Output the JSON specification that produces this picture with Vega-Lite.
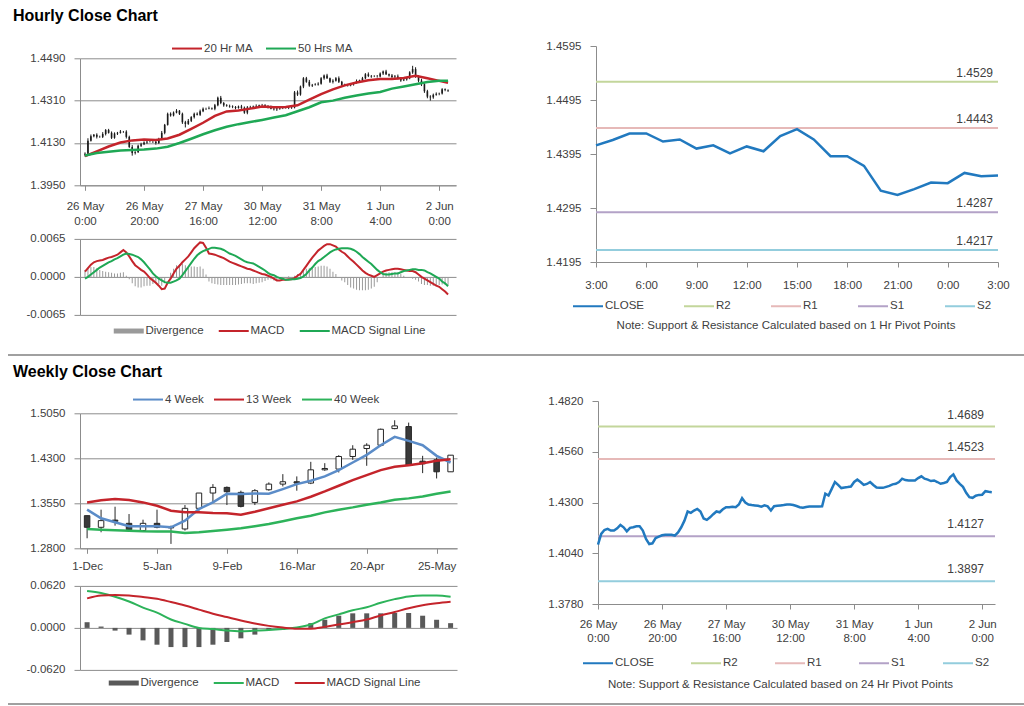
{
"$schema": "https://vega.github.io/schema/vega-lite/v6.json",
"background": "white",
"padding": {"left": 7, "top": 8, "right": 0, "bottom": 0},
"config": {
 "font": "Liberation Sans",
 "view": {"stroke": null},
 "axis": {"labelFont": "Liberation Sans", "labelFontSize": 11.5, "labelColor": "#404040", "domainColor": "#8c8c8c", "tickColor": "#8c8c8c", "gridColor": "#8c8c8c", "labelFlush": false, "labelOverlap": false},
 "legend": {"labelFont": "Liberation Sans", "labelFontSize": 11.5, "labelColor": "#404040", "orient": "none", "direction": "horizontal", "symbolType": "M-1,0H5", "symbolSize": 100, "symbolStrokeWidth": 2, "labelOffset": 21},
 "title": {"font": "Liberation Sans"}
},
"datasets": {
 "h": [
  {"i":0,"o":1.4080,"h":1.4090,"l":1.4072,"c":1.4084,"m":0.0009,"g":-0.0003,"dv":0.0012},
  {"i":1,"o":1.4084,"h":1.4150,"l":1.4080,"c":1.4139,"m":0.0015,"g":0.0000,"dv":0.0015},
  {"i":2,"o":1.4139,"h":1.4166,"l":1.4136,"c":1.4159,"m":0.0021,"g":0.0004,"dv":0.0017},
  {"i":3,"o":1.4159,"h":1.4168,"l":1.4154,"c":1.4165,"m":0.0025,"g":0.0008,"dv":0.0017},
  {"i":4,"o":1.4165,"h":1.4171,"l":1.4149,"c":1.4156,"m":0.0027,"g":0.0012,"dv":0.0015},
  {"i":5,"o":1.4156,"h":1.4161,"l":1.4152,"c":1.4156,"m":0.0028,"g":0.0016,"dv":0.0012},
  {"i":6,"o":1.4156,"h":1.4176,"l":1.4151,"c":1.4168,"m":0.0029,"g":0.0019,"dv":0.0010},
  {"i":7,"o":1.4168,"h":1.4189,"l":1.4162,"c":1.4185,"m":0.0031,"g":0.0022,"dv":0.0009},
  {"i":8,"o":1.4185,"h":1.4190,"l":1.4170,"c":1.4173,"m":0.0033,"g":0.0025,"dv":0.0008},
  {"i":9,"o":1.4173,"h":1.4179,"l":1.4147,"c":1.4152,"m":0.0034,"g":0.0027,"dv":0.0007},
  {"i":10,"o":1.4152,"h":1.4175,"l":1.4148,"c":1.4170,"m":0.0036,"g":0.0030,"dv":0.0006},
  {"i":11,"o":1.4170,"h":1.4177,"l":1.4164,"c":1.4173,"m":0.0038,"g":0.0032,"dv":0.0006},
  {"i":12,"o":1.4173,"h":1.4185,"l":1.4170,"c":1.4178,"m":0.0042,"g":0.0035,"dv":0.0007},
  {"i":13,"o":1.4178,"h":1.4181,"l":1.4173,"c":1.4178,"m":0.0046,"g":0.0038,"dv":0.0008},
  {"i":14,"o":1.4178,"h":1.4184,"l":1.4149,"c":1.4156,"m":0.0042,"g":0.0040,"dv":0.0002},
  {"i":15,"o":1.4156,"h":1.4161,"l":1.4109,"c":1.4113,"m":0.0035,"g":0.0039,"dv":-0.0004},
  {"i":16,"o":1.4113,"h":1.4121,"l":1.4076,"c":1.4087,"m":0.0027,"g":0.0038,"dv":-0.0011},
  {"i":17,"o":1.4087,"h":1.4095,"l":1.4081,"c":1.4091,"m":0.0020,"g":0.0036,"dv":-0.0016},
  {"i":18,"o":1.4091,"h":1.4123,"l":1.4088,"c":1.4118,"m":0.0016,"g":0.0034,"dv":-0.0018},
  {"i":19,"o":1.4118,"h":1.4131,"l":1.4113,"c":1.4125,"m":0.0012,"g":0.0030,"dv":-0.0018},
  {"i":20,"o":1.4125,"h":1.4137,"l":1.4121,"c":1.4132,"m":0.0009,"g":0.0025,"dv":-0.0016},
  {"i":21,"o":1.4132,"h":1.4139,"l":1.4126,"c":1.4135,"m":0.0004,"g":0.0019,"dv":-0.0015},
  {"i":22,"o":1.4135,"h":1.4142,"l":1.4132,"c":1.4135,"m":-0.0002,"g":0.0013,"dv":-0.0015},
  {"i":23,"o":1.4135,"h":1.4138,"l":1.4130,"c":1.4135,"m":-0.0006,"g":0.0006,"dv":-0.0012},
  {"i":24,"o":1.4135,"h":1.4141,"l":1.4123,"c":1.4130,"m":-0.0010,"g":0.0001,"dv":-0.0011},
  {"i":25,"o":1.4130,"h":1.4152,"l":1.4126,"c":1.4147,"m":-0.0015,"g":-0.0003,"dv":-0.0012},
  {"i":26,"o":1.4147,"h":1.4181,"l":1.4142,"c":1.4173,"m":-0.0021,"g":-0.0006,"dv":-0.0015},
  {"i":27,"o":1.4173,"h":1.4211,"l":1.4167,"c":1.4207,"m":-0.0020,"g":-0.0009,"dv":-0.0011},
  {"i":28,"o":1.4207,"h":1.4259,"l":1.4204,"c":1.4254,"m":-0.0010,"g":-0.0010,"dv":0.0000},
  {"i":29,"o":1.4254,"h":1.4260,"l":1.4242,"c":1.4247,"m":-0.0003,"g":-0.0010,"dv":0.0007},
  {"i":30,"o":1.4247,"h":1.4264,"l":1.4243,"c":1.4259,"m":0.0006,"g":-0.0008,"dv":0.0014},
  {"i":31,"o":1.4259,"h":1.4274,"l":1.4256,"c":1.4267,"m":0.0014,"g":-0.0006,"dv":0.0020},
  {"i":32,"o":1.4267,"h":1.4270,"l":1.4249,"c":1.4254,"m":0.0019,"g":-0.0003,"dv":0.0022},
  {"i":33,"o":1.4254,"h":1.4259,"l":1.4211,"c":1.4218,"m":0.0025,"g":0.0003,"dv":0.0022},
  {"i":34,"o":1.4218,"h":1.4224,"l":1.4196,"c":1.4211,"m":0.0030,"g":0.0010,"dv":0.0020},
  {"i":35,"o":1.4211,"h":1.4232,"l":1.4207,"c":1.4224,"m":0.0035,"g":0.0017,"dv":0.0018},
  {"i":36,"o":1.4224,"h":1.4244,"l":1.4219,"c":1.4240,"m":0.0042,"g":0.0024,"dv":0.0018},
  {"i":37,"o":1.4240,"h":1.4259,"l":1.4234,"c":1.4254,"m":0.0049,"g":0.0031,"dv":0.0018},
  {"i":38,"o":1.4254,"h":1.4260,"l":1.4247,"c":1.4250,"m":0.0054,"g":0.0037,"dv":0.0017},
  {"i":39,"o":1.4250,"h":1.4272,"l":1.4245,"c":1.4265,"m":0.0059,"g":0.0041,"dv":0.0018},
  {"i":40,"o":1.4265,"h":1.4281,"l":1.4261,"c":1.4276,"m":0.0058,"g":0.0044,"dv":0.0014},
  {"i":41,"o":1.4276,"h":1.4280,"l":1.4270,"c":1.4276,"m":0.0050,"g":0.0046,"dv":0.0004},
  {"i":42,"o":1.4276,"h":1.4285,"l":1.4273,"c":1.4278,"m":0.0040,"g":0.0048,"dv":-0.0008},
  {"i":43,"o":1.4278,"h":1.4281,"l":1.4271,"c":1.4276,"m":0.0039,"g":0.0050,"dv":-0.0011},
  {"i":44,"o":1.4276,"h":1.4296,"l":1.4269,"c":1.4290,"m":0.0038,"g":0.0050,"dv":-0.0012},
  {"i":45,"o":1.4290,"h":1.4327,"l":1.4286,"c":1.4322,"m":0.0036,"g":0.0049,"dv":-0.0013},
  {"i":46,"o":1.4322,"h":1.4330,"l":1.4295,"c":1.4300,"m":0.0034,"g":0.0048,"dv":-0.0014},
  {"i":47,"o":1.4300,"h":1.4304,"l":1.4284,"c":1.4290,"m":0.0032,"g":0.0046,"dv":-0.0014},
  {"i":48,"o":1.4290,"h":1.4295,"l":1.4284,"c":1.4287,"m":0.0029,"g":0.0043,"dv":-0.0014},
  {"i":49,"o":1.4287,"h":1.4293,"l":1.4280,"c":1.4285,"m":0.0026,"g":0.0040,"dv":-0.0014},
  {"i":50,"o":1.4285,"h":1.4290,"l":1.4278,"c":1.4283,"m":0.0024,"g":0.0038,"dv":-0.0014},
  {"i":51,"o":1.4283,"h":1.4287,"l":1.4273,"c":1.4279,"m":0.0022,"g":0.0036,"dv":-0.0014},
  {"i":52,"o":1.4279,"h":1.4289,"l":1.4276,"c":1.4285,"m":0.0020,"g":0.0033,"dv":-0.0013},
  {"i":53,"o":1.4285,"h":1.4292,"l":1.4275,"c":1.4280,"m":0.0018,"g":0.0030,"dv":-0.0012},
  {"i":54,"o":1.4280,"h":1.4285,"l":1.4254,"c":1.4259,"m":0.0016,"g":0.0027,"dv":-0.0011},
  {"i":55,"o":1.4259,"h":1.4287,"l":1.4252,"c":1.4281,"m":0.0014,"g":0.0025,"dv":-0.0011},
  {"i":56,"o":1.4281,"h":1.4288,"l":1.4277,"c":1.4283,"m":0.0013,"g":0.0024,"dv":-0.0011},
  {"i":57,"o":1.4283,"h":1.4289,"l":1.4277,"c":1.4285,"m":0.0011,"g":0.0023,"dv":-0.0012},
  {"i":58,"o":1.4285,"h":1.4294,"l":1.4282,"c":1.4287,"m":0.0009,"g":0.0020,"dv":-0.0011},
  {"i":59,"o":1.4287,"h":1.4293,"l":1.4282,"c":1.4290,"m":0.0007,"g":0.0017,"dv":-0.0010},
  {"i":60,"o":1.4290,"h":1.4296,"l":1.4283,"c":1.4290,"m":0.0005,"g":0.0014,"dv":-0.0009},
  {"i":61,"o":1.4290,"h":1.4295,"l":1.4283,"c":1.4287,"m":0.0004,"g":0.0011,"dv":-0.0007},
  {"i":62,"o":1.4287,"h":1.4291,"l":1.4277,"c":1.4282,"m":0.0002,"g":0.0007,"dv":-0.0005},
  {"i":63,"o":1.4282,"h":1.4289,"l":1.4273,"c":1.4276,"m":0.0000,"g":0.0004,"dv":-0.0004},
  {"i":64,"o":1.4276,"h":1.4279,"l":1.4268,"c":1.4273,"m":-0.0003,"g":0.0003,"dv":-0.0006},
  {"i":65,"o":1.4273,"h":1.4283,"l":1.4266,"c":1.4277,"m":-0.0006,"g":0.0000,"dv":-0.0006},
  {"i":66,"o":1.4277,"h":1.4284,"l":1.4271,"c":1.4279,"m":-0.0006,"g":-0.0002,"dv":-0.0004},
  {"i":67,"o":1.4279,"h":1.4283,"l":1.4274,"c":1.4279,"m":-0.0005,"g":-0.0003,"dv":-0.0002},
  {"i":68,"o":1.4279,"h":1.4286,"l":1.4276,"c":1.4279,"m":-0.0005,"g":-0.0005,"dv":0.0000},
  {"i":69,"o":1.4279,"h":1.4283,"l":1.4274,"c":1.4280,"m":-0.0004,"g":-0.0005,"dv":0.0001},
  {"i":70,"o":1.4280,"h":1.4287,"l":1.4275,"c":1.4281,"m":-0.0004,"g":-0.0004,"dv":0.0000},
  {"i":71,"o":1.4281,"h":1.4351,"l":1.4277,"c":1.4345,"m":-0.0002,"g":-0.0004,"dv":0.0002},
  {"i":72,"o":1.4345,"h":1.4353,"l":1.4330,"c":1.4336,"m":0.0002,"g":-0.0003,"dv":0.0005},
  {"i":73,"o":1.4336,"h":1.4374,"l":1.4331,"c":1.4370,"m":0.0005,"g":-0.0002,"dv":0.0007},
  {"i":74,"o":1.4370,"h":1.4410,"l":1.4363,"c":1.4405,"m":0.0012,"g":0.0001,"dv":0.0011},
  {"i":75,"o":1.4405,"h":1.4411,"l":1.4386,"c":1.4390,"m":0.0019,"g":0.0005,"dv":0.0014},
  {"i":76,"o":1.4390,"h":1.4398,"l":1.4369,"c":1.4374,"m":0.0026,"g":0.0011,"dv":0.0015},
  {"i":77,"o":1.4374,"h":1.4381,"l":1.4368,"c":1.4377,"m":0.0033,"g":0.0016,"dv":0.0017},
  {"i":78,"o":1.4377,"h":1.4384,"l":1.4374,"c":1.4379,"m":0.0039,"g":0.0022,"dv":0.0017},
  {"i":79,"o":1.4379,"h":1.4388,"l":1.4374,"c":1.4382,"m":0.0045,"g":0.0027,"dv":0.0018},
  {"i":80,"o":1.4382,"h":1.4410,"l":1.4378,"c":1.4405,"m":0.0049,"g":0.0030,"dv":0.0019},
  {"i":81,"o":1.4405,"h":1.4421,"l":1.4399,"c":1.4417,"m":0.0053,"g":0.0034,"dv":0.0019},
  {"i":82,"o":1.4417,"h":1.4424,"l":1.4402,"c":1.4405,"m":0.0056,"g":0.0038,"dv":0.0018},
  {"i":83,"o":1.4405,"h":1.4408,"l":1.4385,"c":1.4390,"m":0.0056,"g":0.0042,"dv":0.0014},
  {"i":84,"o":1.4390,"h":1.4401,"l":1.4383,"c":1.4395,"m":0.0054,"g":0.0045,"dv":0.0009},
  {"i":85,"o":1.4395,"h":1.4410,"l":1.4391,"c":1.4405,"m":0.0052,"g":0.0047,"dv":0.0005},
  {"i":86,"o":1.4405,"h":1.4413,"l":1.4385,"c":1.4390,"m":0.0047,"g":0.0048,"dv":-0.0001},
  {"i":87,"o":1.4390,"h":1.4394,"l":1.4371,"c":1.4377,"m":0.0043,"g":0.0049,"dv":-0.0006},
  {"i":88,"o":1.4377,"h":1.4382,"l":1.4372,"c":1.4375,"m":0.0040,"g":0.0049,"dv":-0.0009},
  {"i":89,"o":1.4375,"h":1.4381,"l":1.4370,"c":1.4375,"m":0.0035,"g":0.0049,"dv":-0.0014},
  {"i":90,"o":1.4375,"h":1.4385,"l":1.4371,"c":1.4380,"m":0.0030,"g":0.0048,"dv":-0.0018},
  {"i":91,"o":1.4380,"h":1.4389,"l":1.4374,"c":1.4385,"m":0.0026,"g":0.0046,"dv":-0.0020},
  {"i":92,"o":1.4385,"h":1.4400,"l":1.4382,"c":1.4393,"m":0.0021,"g":0.0043,"dv":-0.0022},
  {"i":93,"o":1.4393,"h":1.4399,"l":1.4388,"c":1.4396,"m":0.0016,"g":0.0039,"dv":-0.0023},
  {"i":94,"o":1.4396,"h":1.4411,"l":1.4389,"c":1.4405,"m":0.0011,"g":0.0034,"dv":-0.0023},
  {"i":95,"o":1.4405,"h":1.4427,"l":1.4401,"c":1.4422,"m":0.0007,"g":0.0030,"dv":-0.0023},
  {"i":96,"o":1.4422,"h":1.4430,"l":1.4410,"c":1.4415,"m":0.0004,"g":0.0026,"dv":-0.0022},
  {"i":97,"o":1.4415,"h":1.4419,"l":1.4407,"c":1.4413,"m":0.0002,"g":0.0022,"dv":-0.0020},
  {"i":98,"o":1.4413,"h":1.4418,"l":1.4410,"c":1.4413,"m":0.0000,"g":0.0017,"dv":-0.0017},
  {"i":99,"o":1.4413,"h":1.4419,"l":1.4408,"c":1.4413,"m":0.0003,"g":0.0012,"dv":-0.0009},
  {"i":100,"o":1.4413,"h":1.4430,"l":1.4409,"c":1.4425,"m":0.0006,"g":0.0008,"dv":-0.0002},
  {"i":101,"o":1.4425,"h":1.4438,"l":1.4419,"c":1.4434,"m":0.0009,"g":0.0005,"dv":0.0004},
  {"i":102,"o":1.4434,"h":1.4441,"l":1.4419,"c":1.4422,"m":0.0011,"g":0.0004,"dv":0.0007},
  {"i":103,"o":1.4422,"h":1.4425,"l":1.4412,"c":1.4417,"m":0.0012,"g":0.0004,"dv":0.0008},
  {"i":104,"o":1.4417,"h":1.4423,"l":1.4403,"c":1.4410,"m":0.0013,"g":0.0005,"dv":0.0008},
  {"i":105,"o":1.4410,"h":1.4419,"l":1.4406,"c":1.4413,"m":0.0014,"g":0.0006,"dv":0.0008},
  {"i":106,"o":1.4413,"h":1.4421,"l":1.4400,"c":1.4405,"m":0.0014,"g":0.0006,"dv":0.0008},
  {"i":107,"o":1.4405,"h":1.4409,"l":1.4390,"c":1.4396,"m":0.0013,"g":0.0008,"dv":0.0005},
  {"i":108,"o":1.4396,"h":1.4405,"l":1.4393,"c":1.4400,"m":0.0012,"g":0.0010,"dv":0.0002},
  {"i":109,"o":1.4400,"h":1.4411,"l":1.4395,"c":1.4405,"m":0.0011,"g":0.0011,"dv":0.0000},
  {"i":110,"o":1.4405,"h":1.4435,"l":1.4401,"c":1.4430,"m":0.0010,"g":0.0012,"dv":-0.0002},
  {"i":111,"o":1.4430,"h":1.4458,"l":1.4424,"c":1.4444,"m":0.0010,"g":0.0013,"dv":-0.0003},
  {"i":112,"o":1.4444,"h":1.4452,"l":1.4407,"c":1.4413,"m":0.0008,"g":0.0013,"dv":-0.0005},
  {"i":113,"o":1.4413,"h":1.4418,"l":1.4388,"c":1.4395,"m":0.0004,"g":0.0012,"dv":-0.0008},
  {"i":114,"o":1.4395,"h":1.4403,"l":1.4372,"c":1.4380,"m":0.0000,"g":0.0012,"dv":-0.0012},
  {"i":115,"o":1.4380,"h":1.4384,"l":1.4343,"c":1.4350,"m":-0.0003,"g":0.0011,"dv":-0.0014},
  {"i":116,"o":1.4350,"h":1.4356,"l":1.4320,"c":1.4327,"m":-0.0006,"g":0.0008,"dv":-0.0014},
  {"i":117,"o":1.4327,"h":1.4333,"l":1.4310,"c":1.4324,"m":-0.0009,"g":0.0006,"dv":-0.0015},
  {"i":118,"o":1.4324,"h":1.4340,"l":1.4318,"c":1.4335,"m":-0.0012,"g":0.0003,"dv":-0.0015},
  {"i":119,"o":1.4335,"h":1.4345,"l":1.4331,"c":1.4339,"m":-0.0015,"g":0.0000,"dv":-0.0015},
  {"i":120,"o":1.4339,"h":1.4344,"l":1.4333,"c":1.4340,"m":-0.0017,"g":-0.0003,"dv":-0.0014},
  {"i":121,"o":1.4340,"h":1.4363,"l":1.4336,"c":1.4358,"m":-0.0021,"g":-0.0008,"dv":-0.0013},
  {"i":122,"o":1.4358,"h":1.4362,"l":1.4350,"c":1.4355,"m":-0.0025,"g":-0.0011,"dv":-0.0014},
  {"i":123,"o":1.4355,"h":1.4358,"l":1.4347,"c":1.4353,"m":-0.0030,"g":-0.0016,"dv":-0.0014}
 ],
 "hma": [
  {"i":0,"a":1.4074,"b":1.4077},{"i":4,"a":1.4094,"b":1.4087},{"i":8,"a":1.4115,"b":1.4093},{"i":12,"a":1.4132,"b":1.4098},
  {"i":16,"a":1.4141,"b":1.4100},{"i":20,"a":1.4145,"b":1.4102},{"i":24,"a":1.4143,"b":1.4106},{"i":28,"a":1.4149,"b":1.4114},
  {"i":32,"a":1.4165,"b":1.4130},{"i":36,"a":1.4190,"b":1.4148},{"i":40,"a":1.4216,"b":1.4167},{"i":44,"a":1.4245,"b":1.4184},
  {"i":48,"a":1.4264,"b":1.4199},{"i":52,"a":1.4268,"b":1.4210},{"i":56,"a":1.4276,"b":1.4219},{"i":60,"a":1.4285,"b":1.4228},
  {"i":64,"a":1.4282,"b":1.4238},{"i":68,"a":1.4283,"b":1.4248},{"i":72,"a":1.4290,"b":1.4265},{"i":76,"a":1.4314,"b":1.4282},
  {"i":80,"a":1.4338,"b":1.4303},{"i":84,"a":1.4358,"b":1.4310},{"i":88,"a":1.4375,"b":1.4322},{"i":92,"a":1.4387,"b":1.4332},
  {"i":96,"a":1.4397,"b":1.4340},{"i":100,"a":1.4402,"b":1.4347},{"i":104,"a":1.4402,"b":1.4361},{"i":108,"a":1.4406,"b":1.4370},
  {"i":112,"a":1.4416,"b":1.4380},{"i":116,"a":1.4405,"b":1.4389},{"i":120,"a":1.4394,"b":1.4395},{"i":123,"a":1.4386,"b":1.4395}
 ],
 "d1": [
  {"t":0,"c":1.4411},{"t":1,"c":1.4421},{"t":2,"c":1.4433},{"t":3,"c":1.4433},{"t":4,"c":1.4418},{"t":5,"c":1.4422},
  {"t":6,"c":1.4405},{"t":7,"c":1.4411},{"t":8,"c":1.4396},{"t":9,"c":1.4409},{"t":10,"c":1.4400},{"t":11,"c":1.4428},
  {"t":12,"c":1.4441},{"t":13,"c":1.4422},{"t":14,"c":1.4391},{"t":15,"c":1.4391},{"t":16,"c":1.4373},{"t":17,"c":1.4327},
  {"t":18,"c":1.4319},{"t":19,"c":1.4330},{"t":20,"c":1.4342},{"t":21,"c":1.4341},{"t":22,"c":1.4360},{"t":23,"c":1.4354},{"t":24,"c":1.4355}
 ],
 "p1": [{"s":"R2","v":1.4529},{"s":"R1","v":1.4443},{"s":"S1","v":1.4287},{"s":"S2","v":1.4217}],
 "p2": [{"s":"R2","v":1.4689},{"s":"R1","v":1.4523},{"s":"S1","v":1.4127},{"s":"S2","v":1.3897}],
 "w": [
  {"k":0,"o":1.3344,"h":1.3344,"l":1.2967,"c":1.3150,"w4":1.3444,"w13":1.3565,"w40":1.3122,"m":0.0546,"g":0.0436,"dv":0.0084},
  {"k":1,"o":1.3150,"h":1.3444,"l":1.3067,"c":1.3261,"w4":1.3300,"w13":1.3600,"w40":1.3111,"m":0.0515,"g":0.0480,"dv":0.0020},
  {"k":2,"o":1.3270,"h":1.3493,"l":1.3178,"c":1.3250,"w4":1.3233,"w13":1.3621,"w40":1.3100,"m":0.0460,"g":0.0486,"dv":-0.0040},
  {"k":3,"o":1.3216,"h":1.3371,"l":1.3111,"c":1.3111,"w4":1.3167,"w13":1.3604,"w40":1.3092,"m":0.0390,"g":0.0478,"dv":-0.0099},
  {"k":4,"o":1.3095,"h":1.3277,"l":1.3095,"c":1.3216,"w4":1.3167,"w13":1.3565,"w40":1.3083,"m":0.0300,"g":0.0455,"dv":-0.0184},
  {"k":5,"o":1.3216,"h":1.3444,"l":1.3133,"c":1.3150,"w4":1.3167,"w13":1.3510,"w40":1.3080,"m":0.0225,"g":0.0430,"dv":-0.0248},
  {"k":6,"o":1.3150,"h":1.3178,"l":1.2873,"c":1.3140,"w4":1.3150,"w13":1.3427,"w40":1.3078,"m":0.0124,"g":0.0382,"dv":-0.0283},
  {"k":7,"o":1.3122,"h":1.3521,"l":1.3095,"c":1.3466,"w4":1.3261,"w13":1.3399,"w40":1.3056,"m":0.0060,"g":0.0330,"dv":-0.0283},
  {"k":8,"o":1.3466,"h":1.3721,"l":1.3427,"c":1.3721,"w4":1.3455,"w13":1.3399,"w40":1.3067,"m":0.0000,"g":0.0270,"dv":-0.0283},
  {"k":9,"o":1.3721,"h":1.3870,"l":1.3565,"c":1.3815,"w4":1.3565,"w13":1.3388,"w40":1.3089,"m":-0.0018,"g":0.0210,"dv":-0.0248},
  {"k":10,"o":1.3815,"h":1.3831,"l":1.3521,"c":1.3743,"w4":1.3709,"w13":1.3383,"w40":1.3111,"m":-0.0040,"g":0.0160,"dv":-0.0208},
  {"k":11,"o":1.3732,"h":1.3760,"l":1.3482,"c":1.3499,"w4":1.3704,"w13":1.3361,"w40":1.3133,"m":-0.0050,"g":0.0110,"dv":-0.0154},
  {"k":12,"o":1.3565,"h":1.3787,"l":1.3521,"c":1.3760,"w4":1.3715,"w13":1.3410,"w40":1.3167,"m":-0.0040,"g":0.0065,"dv":-0.0099},
  {"k":13,"o":1.3776,"h":1.3898,"l":1.3759,"c":1.3870,"w4":1.3709,"w13":1.3466,"w40":1.3205,"m":-0.0030,"g":0.0030,"dv":-0.0030},
  {"k":14,"o":1.3870,"h":1.4036,"l":1.3831,"c":1.3909,"w4":1.3787,"w13":1.3527,"w40":1.3250,"m":-0.0015,"g":0.0005,"dv":-0.0005},
  {"k":15,"o":1.3909,"h":1.3998,"l":1.3760,"c":1.3887,"w4":1.3870,"w13":1.3582,"w40":1.3300,"m":0.0005,"g":-0.0012,"dv":0.0005},
  {"k":16,"o":1.3887,"h":1.4241,"l":1.3870,"c":1.4108,"w4":1.3925,"w13":1.3660,"w40":1.3344,"m":0.0050,"g":-0.0012,"dv":0.0070},
  {"k":17,"o":1.4108,"h":1.4219,"l":1.4091,"c":1.4130,"w4":1.3998,"w13":1.3748,"w40":1.3399,"m":0.0140,"g":0.0015,"dv":0.0120},
  {"k":18,"o":1.4120,"h":1.4352,"l":1.4064,"c":1.4330,"w4":1.4103,"w13":1.3842,"w40":1.3444,"m":0.0200,"g":0.0050,"dv":0.0180},
  {"k":19,"o":1.4330,"h":1.4518,"l":1.4275,"c":1.4452,"w4":1.4230,"w13":1.3937,"w40":1.3482,"m":0.0260,"g":0.0085,"dv":0.0215},
  {"k":20,"o":1.4463,"h":1.4551,"l":1.4175,"c":1.4518,"w4":1.4358,"w13":1.4020,"w40":1.3527,"m":0.0305,"g":0.0124,"dv":0.0215},
  {"k":21,"o":1.4518,"h":1.4795,"l":1.4496,"c":1.4784,"w4":1.4518,"w13":1.4103,"w40":1.3565,"m":0.0372,"g":0.0184,"dv":0.0215},
  {"k":22,"o":1.4795,"h":1.4934,"l":1.4784,"c":1.4840,"w4":1.4657,"w13":1.4158,"w40":1.3610,"m":0.0425,"g":0.0235,"dv":0.0220},
  {"k":23,"o":1.4829,"h":1.4895,"l":1.4175,"c":1.4186,"w4":1.4590,"w13":1.4186,"w40":1.3632,"m":0.0465,"g":0.0290,"dv":0.0220},
  {"k":24,"o":1.4252,"h":1.4341,"l":1.4053,"c":1.4208,"w4":1.4518,"w13":1.4219,"w40":1.3665,"m":0.0478,"g":0.0335,"dv":0.0180},
  {"k":25,"o":1.4275,"h":1.4313,"l":1.3964,"c":1.4075,"w4":1.4341,"w13":1.4258,"w40":1.3709,"m":0.0478,"g":0.0365,"dv":0.0120},
  {"k":26,"o":1.4075,"h":1.4352,"l":1.4075,"c":1.4352,"w4":1.4230,"w13":1.4286,"w40":1.3748,"m":0.0461,"g":0.0387,"dv":0.0070}
 ]
},
"resolve": {"scale": {"x": "independent", "y": "independent", "color": "independent"}, "legend": {"color": "independent"}},
"spacing": 8,
"vconcat": [
 {
  "title": {"text": "Hourly Close Chart", "anchor": "start", "fontSize": 16, "fontWeight": "bold", "color": "#000000", "dx": -13, "offset": 16},
  "resolve": {"scale": {"x": "independent", "y": "independent", "color": "independent"}, "legend": {"color": "independent"}},
  "spacing": 89,
  "hconcat": [
   {
    "resolve": {"scale": {"x": "independent", "y": "independent", "color": "independent"}, "legend": {"color": "independent"}},
    "bounds": "flush",
    "spacing": 11.3,
    "vconcat": [
     {"width": 376, "height": 1, "data": {"values": [{}]}, "mark": {"type": "text", "text": ""}, "encoding": {}},
     {
      "width": 376, "height": 127,
      "layer": [
       {"data": {"name": "h"}, "mark": {"type": "rule", "color": "#1a1a1a", "strokeWidth": 1},
        "encoding": {
         "x": {"field": "i", "type": "quantitative", "title": null, "scale": {"domain": [0, 124], "nice": false, "zero": false},
               "axis": {"values": [0, 20, 40, 60, 80, 100, 120], "tickCount": 10, "grid": false, "tickSize": 5, "labelPadding": 10, "labelLineHeight": 15,
                        "labelExpr": "[['26 May','0:00'],['26 May','20:00'],['27 May','16:00'],['30 May','12:00'],['31 May','8:00'],['1 Jun','4:00'],['2 Jun','0:00']][round(datum.value/20)]"}},
         "y": {"field": "l", "type": "quantitative", "title": null, "scale": {"domain": [1.395, 1.449], "nice": false, "zero": false},
               "axis": {"values": [1.395, 1.413, 1.431, 1.449], "tickCount": 6, "format": ".4f", "grid": true, "tickSize": 6, "labelPadding": 9}},
         "y2": {"field": "h"}
        }},
       {"data": {"name": "h"}, "mark": {"type": "bar", "size": 1.6, "color": "#1a1a1a"},
        "encoding": {"x": {"field": "i", "type": "quantitative", "title": null}, "y": {"field": "o", "type": "quantitative", "title": null}, "y2": {"field": "c"}}},
       {"data": {"name": "hma"}, "transform": [{"fold": ["a", "b"], "as": ["s", "v"]}],
        "mark": {"type": "line", "strokeWidth": 2.5},
        "encoding": {"x": {"field": "i", "type": "quantitative", "title": null}, "y": {"field": "v", "type": "quantitative", "title": null},
         "color": {"field": "s", "type": "nominal", "title": null, "scale": {"domain": ["a", "b"], "range": ["#c4242b", "#1fa855"]},
          "legend": {"legendX": 91, "legendY": -16, "columnPadding": 9, "labelExpr": "datum.label == 'a' ? '20 Hr MA' : '50 Hrs MA'"}}}}
      ]
     },
     {"width": 376, "height": 30.4, "data": {"values": [{}]}, "mark": {"type": "text", "text": ""}, "encoding": {}},
     {
      "width": 376, "height": 76,
      "layer": [
       {"data": {"name": "h"}, "mark": {"type": "bar", "size": 1},
        "encoding": {
         "x": {"field": "i", "type": "quantitative", "title": null, "scale": {"domain": [0, 124], "nice": false, "zero": false}, "axis": null},
         "y": {"field": "dv", "type": "quantitative", "title": null, "scale": {"domain": [-0.0065, 0.0065], "nice": false},
               "axis": {"values": [-0.0065, 0, 0.0065], "tickCount": 5, "format": ".4f", "labelExpr": "replace(datum.label, '−', '-')", "grid": true, "tickSize": 6, "labelPadding": 9}},
         "y2": {"datum": 0},
         "color": {"datum": "d", "type": "nominal", "title": null, "scale": {"domain": ["d", "m", "g"], "range": ["#9a9a9a", "#c4242b", "#1fa855"]},
          "legend": {"legendX": 33, "legendY": 86, "columnPadding": 10,
           "labelExpr": "datum.label == 'd' ? 'Divergence' : datum.label == 'm' ? 'MACD' : 'MACD Signal Line'",
           "encode": {"symbols": {"update": {
             "shape": {"signal": "datum.value == 'd' ? 'M-1,-0.5H5V0.5H-1Z' : 'M-1,0H5'"},
             "fill": {"signal": "datum.value == 'd' ? '#8c8c8c' : 'transparent'"},
             "stroke": {"signal": "datum.value == 'd' ? '#8c8c8c' : datum.value == 'm' ? '#c4242b' : '#1fa855'"},
             "strokeWidth": {"signal": "datum.value == 'd' ? 0 : 2"}}}}}}
        }},
       {"data": {"name": "h"}, "transform": [{"fold": ["m", "g"], "as": ["s", "v"]}],
        "mark": {"type": "line", "strokeWidth": 2},
        "encoding": {"x": {"field": "i", "type": "quantitative", "title": null}, "y": {"field": "v", "type": "quantitative", "title": null},
         "color": {"field": "s", "type": "nominal", "title": null}}}
      ]
     }
    ]
   },
   {
    "width": 402, "height": 216,
    "title": {"text": "Note: Support & Resistance Calculated based on 1 Hr Pivot Points", "orient": "bottom", "anchor": "middle", "frame": "group", "fontSize": 11.5, "fontWeight": "normal", "color": "#404040", "offset": 8, "dx": -11},
    "layer": [
     {"data": {"name": "p1"}, "mark": {"type": "rule", "strokeWidth": 2},
      "encoding": {
       "y": {"field": "v", "type": "quantitative", "title": null, "scale": {"domain": [1.4195, 1.4595], "nice": false, "zero": false},
             "axis": {"values": [1.4195, 1.4295, 1.4395, 1.4495, 1.4595], "tickCount": 8, "format": ".4f", "grid": false, "tickSize": 6, "labelPadding": 9}},
       "color": {"field": "s", "type": "nominal", "title": null, "scale": {"domain": ["CLOSE", "R2", "R1", "S1", "S2"], "range": ["#2179bf", "#c3d69b", "#e6b9b8", "#b3a2c7", "#93cddd"]},
        "legend": {"legendX": -24, "legendY": 254, "columnPadding": 36}}
      }},
     {"data": {"name": "p1"}, "mark": {"type": "text", "align": "right", "baseline": "middle", "dx": -5, "dy": -9, "fontSize": 12, "color": "#404040"},
      "encoding": {"x": {"datum": 24, "type": "quantitative"}, "y": {"field": "v", "type": "quantitative", "title": null}, "text": {"field": "v", "type": "quantitative", "format": ".4f"}}},
     {"data": {"name": "d1"}, "mark": {"type": "line", "strokeWidth": 2.5},
      "encoding": {
       "x": {"field": "t", "type": "quantitative", "title": null, "scale": {"domain": [0, 24], "nice": false, "zero": false},
             "axis": {"values": [0, 3, 6, 9, 12, 15, 18, 21, 24], "tickCount": 12, "grid": false, "tickSize": 5, "labelPadding": 12, "labelExpr": "((datum.value + 3) % 24) + ':00'"}},
       "y": {"field": "c", "type": "quantitative", "title": null},
       "color": {"datum": "CLOSE", "type": "nominal"}
      }}
    ]
   }
  ]
 },
 {
  "width": 945, "height": 10,
  "data": {"values": [{}]},
  "mark": {"type": "rule", "color": "#a0a0a0", "strokeWidth": 2},
  "encoding": {
   "x": {"datum": -72, "type": "quantitative", "scale": {"domain": [0, 945], "nice": false, "zero": false}, "axis": null},
   "x2": {"datum": 945},
   "y": {"datum": 0, "type": "quantitative", "scale": {"domain": [0, 1]}, "axis": null}
  }
 },
 {
  "title": {"text": "Weekly Close Chart", "anchor": "start", "fontSize": 16, "fontWeight": "bold", "color": "#000000", "dx": -13, "offset": 13},
  "resolve": {"scale": {"x": "independent", "y": "independent", "color": "independent"}, "legend": {"color": "independent"}},
  "spacing": 90,
  "hconcat": [
   {
    "resolve": {"scale": {"x": "independent", "y": "independent", "color": "independent"}, "legend": {"color": "independent"}},
    "bounds": "flush",
    "spacing": 11.3,
    "vconcat": [
     {"width": 377, "height": 1, "data": {"values": [{}]}, "mark": {"type": "text", "text": ""}, "encoding": {}},
     {
      "width": 377, "height": 135,
      "layer": [
       {"data": {"name": "w"}, "mark": {"type": "rule", "color": "#262626", "strokeWidth": 1},
        "encoding": {
         "x": {"field": "k", "type": "quantitative", "title": null, "scale": {"domain": [-0.15, 26.1], "nice": false, "zero": false},
               "axis": {"values": [0, 5, 10, 15, 20, 25], "tickCount": 10, "grid": false, "tickSize": 5, "labelPadding": 7,
                        "labelExpr": "['1-Dec','5-Jan','9-Feb','16-Mar','20-Apr','25-May'][round(datum.value/5)]"}},
         "y": {"field": "l", "type": "quantitative", "title": null, "scale": {"domain": [1.28, 1.505], "nice": false, "zero": false},
               "axis": {"values": [1.28, 1.355, 1.43, 1.505], "tickCount": 6, "format": ".4f", "grid": true, "tickSize": 6, "labelPadding": 9}},
         "y2": {"field": "h"}
        }},
       {"data": {"name": "w"}, "mark": {"type": "bar", "size": 5.5, "stroke": "#262626", "strokeWidth": 1},
        "encoding": {"x": {"field": "k", "type": "quantitative", "title": null}, "y": {"field": "o", "type": "quantitative", "title": null}, "y2": {"field": "c"},
         "fill": {"condition": {"test": "datum.c >= datum.o", "value": "#ffffff"}, "value": "#3a3a3a"}}},
       {"data": {"name": "w"}, "transform": [{"fold": ["w4", "w13", "w40"], "as": ["s", "v"]}],
        "mark": {"type": "line", "strokeWidth": 2.5},
        "encoding": {"x": {"field": "k", "type": "quantitative", "title": null}, "y": {"field": "v", "type": "quantitative", "title": null},
         "color": {"field": "s", "type": "nominal", "title": null, "scale": {"domain": ["w4", "w13", "w40"], "range": ["#5b8cc8", "#c4242b", "#2db35a"]},
          "legend": {"legendX": 52, "legendY": -20, "columnPadding": 6, "labelExpr": "datum.label == 'w4' ? '4 Week' : datum.label == 'w13' ? '13 Week' : '40 Week'"}}}}
      ]
     },
     {"width": 377, "height": 14.7, "data": {"values": [{}]}, "mark": {"type": "text", "text": ""}, "encoding": {}},
     {
      "width": 377, "height": 84,
      "layer": [
       {"data": {"name": "w"}, "mark": {"type": "bar", "size": 5},
        "encoding": {
         "x": {"field": "k", "type": "quantitative", "title": null, "scale": {"domain": [-0.15, 26.1], "nice": false, "zero": false}, "axis": null},
         "y": {"field": "dv", "type": "quantitative", "title": null, "scale": {"domain": [-0.062, 0.062], "nice": false},
               "axis": {"values": [-0.062, 0, 0.062], "tickCount": 5, "format": ".4f", "labelExpr": "replace(datum.label, '−', '-')", "grid": true, "tickSize": 6, "labelPadding": 9}},
         "y2": {"datum": 0},
         "color": {"datum": "d", "type": "nominal", "title": null, "scale": {"domain": ["d", "m", "g"], "range": ["#595959", "#2db35a", "#c4242b"]},
          "legend": {"legendX": 28, "legendY": 91, "columnPadding": 10,
           "labelExpr": "datum.label == 'd' ? 'Divergence' : datum.label == 'm' ? 'MACD' : 'MACD Signal Line'",
           "encode": {"symbols": {"update": {
             "shape": {"signal": "datum.value == 'd' ? 'M-1,-0.5H5V0.5H-1Z' : 'M-1,0H5'"},
             "fill": {"signal": "datum.value == 'd' ? '#595959' : 'transparent'"},
             "stroke": {"signal": "datum.value == 'd' ? '#595959' : datum.value == 'm' ? '#2db35a' : '#c4242b'"},
             "strokeWidth": {"signal": "datum.value == 'd' ? 0 : 2"}}}}}}
        }},
       {"data": {"name": "w"}, "transform": [{"fold": ["m", "g"], "as": ["s", "v"]}],
        "mark": {"type": "line", "strokeWidth": 2, "interpolate": "monotone"},
        "encoding": {"x": {"field": "k", "type": "quantitative", "title": null}, "y": {"field": "v", "type": "quantitative", "title": null},
         "color": {"field": "s", "type": "nominal", "title": null}}}
      ]
     }
    ]
   },
   {
    "width": 397, "height": 203,
    "title": {"text": "Note: Support & Resistance Calculated based on 24 Hr Pivot Points", "orient": "bottom", "anchor": "middle", "frame": "group", "fontSize": 11.5, "fontWeight": "normal", "color": "#404040", "offset": 10, "dx": -16},
    "layer": [
     {"data": {"name": "p2"}, "mark": {"type": "rule", "strokeWidth": 2},
      "encoding": {
       "y": {"field": "v", "type": "quantitative", "title": null, "scale": {"domain": [1.378, 1.482], "nice": false, "zero": false},
             "axis": {"values": [1.378, 1.404, 1.43, 1.456, 1.482], "tickCount": 8, "format": ".4f", "grid": false, "tickSize": 6, "labelPadding": 9}},
       "color": {"field": "s", "type": "nominal", "title": null, "scale": {"domain": ["CLOSE", "R2", "R1", "S1", "S2"], "range": ["#2179bf", "#c3d69b", "#e6b9b8", "#b3a2c7", "#93cddd"]},
        "legend": {"legendX": -16, "legendY": 256, "columnPadding": 33}}
      }},
     {"data": {"name": "p2"}, "mark": {"type": "text", "align": "right", "baseline": "middle", "dx": -11, "dy": -12, "fontSize": 12, "color": "#404040"},
      "encoding": {"x": {"datum": 124, "type": "quantitative"}, "y": {"field": "v", "type": "quantitative", "title": null}, "text": {"field": "v", "type": "quantitative", "format": ".4f"}}},
     {"data": {"name": "h"}, "mark": {"type": "line", "strokeWidth": 2.5},
      "encoding": {
       "x": {"field": "i", "type": "quantitative", "title": null, "scale": {"domain": [0, 124], "nice": false, "zero": false},
             "axis": {"values": [0, 20, 40, 60, 80, 100, 120], "tickCount": 10, "grid": false, "tickSize": 5, "labelPadding": 9, "labelLineHeight": 14,
                      "labelExpr": "[['26 May','0:00'],['26 May','20:00'],['27 May','16:00'],['30 May','12:00'],['31 May','8:00'],['1 Jun','4:00'],['2 Jun','0:00']][round(datum.value/20)]"}},
       "y": {"field": "c", "type": "quantitative", "title": null},
       "color": {"datum": "CLOSE", "type": "nominal"}
      }}
    ]
   }
  ]
 },
 {
  "width": 945, "height": 5,
  "data": {"values": [{}]},
  "mark": {"type": "rule", "color": "#a0a0a0", "strokeWidth": 2},
  "encoding": {
   "x": {"datum": -72, "type": "quantitative", "scale": {"domain": [0, 945], "nice": false, "zero": false}, "axis": null},
   "x2": {"datum": 945},
   "y": {"datum": 0, "type": "quantitative", "scale": {"domain": [0, 1]}, "axis": null}
  }
 }
]
}
